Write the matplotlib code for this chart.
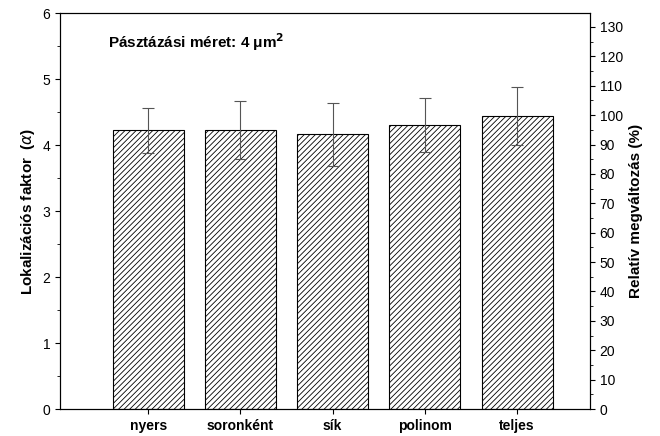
import matplotlib
matplotlib.use("Agg")
import matplotlib.pyplot as plt
import numpy as np

categories = ["nyers", "soronként", "sík", "polinom", "teljes"]
values = [4.22, 4.23, 4.16, 4.30, 4.44]
errors = [0.34, 0.44, 0.48, 0.41, 0.44]
left_ticks = [0, 1, 2, 3, 4, 5, 6]
right_ticks = list(range(0, 140, 10))

plt.rcParams["font.family"] = "Liberation Sans"
plt.rcParams["hatch.color"] = "#999999"
plt.rcParams["hatch.linewidth"] = 0.6
fig = plt.figure(figsize=(6.6, 4.36), dpi=100)
ax = fig.add_axes([60/660, 27/436, 530/660, 396/436])
x = np.arange(1, len(categories) + 1)
ax.bar(x, values, width=0.77, color="white", edgecolor="black", linewidth=0.8,
       hatch="//////", yerr=errors, capsize=4,
       error_kw=dict(ecolor="#555555", elinewidth=0.8, capthick=0.8))
ax.set_xlim(0.043, 5.79)
ax.set_ylim(0, 6)
ax.set_xticks(x)
ax.set_xticklabels(categories, fontweight="bold", fontsize=10)
ax.set_yticks(left_ticks)
ax.set_yticks(np.arange(0.5, 6, 1), minor=True)
ax.tick_params(axis="y", labelsize=10)
ax.set_ylabel("Lokalizációs faktor  ($\\alpha$)", fontweight="bold", fontsize=11)
ax.text(0.09, 0.955, "Pásztázási méret: 4 μm$^{\\mathbf{2}}$", transform=ax.transAxes,
        fontweight="bold", fontsize=11, va="top")
ax2 = ax.twinx()
ax2.set_ylim(0, 6 * 130 / ((409 - 27) / 396 * 6))
ax2.set_yticks(right_ticks)
ax2.set_yticks(np.arange(5, 135, 10), minor=True)
ax2.tick_params(axis="y", labelsize=10)
ax2.set_ylabel("Relatív megváltozás (%)", fontweight="bold", fontsize=11)
fig.savefig("out.png", dpi=100)
